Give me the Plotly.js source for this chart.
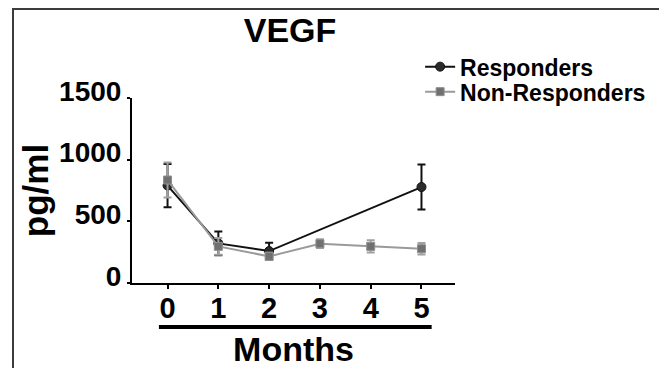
<!DOCTYPE html>
<html>
<head>
<meta charset="utf-8">
<script src="https://cdn.plot.ly/plotly-3.0.1.min.js"></script>
<style>
  html, body { margin: 0; padding: 0; background: #fff; }
  #wrap { position: relative; width: 659px; height: 368px; overflow: hidden; }
  #chart { width: 659px; height: 368px; }
  #frame { position: absolute; left: 12px; top: 8px; width: 645px; height: 420px;
           border-left: 2px solid #3c3c3c; border-top: 2px solid #3c3c3c; border-right: 1px solid #8a8a8a;
           pointer-events: none; }
</style>
</head>
<body>
<div id="wrap"><div id="chart"></div><div id="frame"></div></div>
<script>
// Data
const monthTicks = [0, 1, 2, 3, 4, 5];
const respMonths = [0, 1, 2, 5];
const respValues = [790, 321, 259, 778];
const respErrors = [175, 96, 68, 182];
const nonRespMonths = [0, 1, 2, 3, 4, 5];
const nonRespValues = [835, 297, 216, 319, 297, 278];
const nonRespErrors = [142, 68, 30, 35, 50, 46];
const yTicks = [0, 500, 1000, 1500];

const FONT = 'Liberation Sans, Arial, Helvetica, sans-serif';
const legendFont = { family: FONT, size: 23, weight: 'bold', color: '#000' };

const traces = [
  {
    name: 'Responders', type: 'scatter', mode: 'lines+markers', legend: 'legend',
    x: respMonths, y: respValues,
    line: { color: '#111111', width: 2 },
    marker: { symbol: 'circle', size: 9, color: '#2a2a2a', line: { color: '#111', width: 1 } },
    error_y: { type: 'data', array: respErrors, visible: true, color: '#111111', thickness: 2, width: 4 }
  },
  {
    name: 'Non-Responders', type: 'scatter', mode: 'lines+markers', legend: 'legend2',
    x: nonRespMonths, y: nonRespValues,
    line: { color: '#9a9a9a', width: 2 },
    marker: { symbol: 'square', size: 8, color: '#707070', line: { color: '#909090', width: 1 } },
    error_y: { type: 'data', array: nonRespErrors, visible: true, color: '#a0a0a0', thickness: 2, width: 4 }
  }
];

const layout = {
  width: 659, height: 368,
  margin: { l: 132, r: 204, t: 98, b: 85, pad: 0, autoexpand: false },
  paper_bgcolor: '#ffffff', plot_bgcolor: '#ffffff',
  font: { family: FONT, color: '#000' },
  showlegend: true,
  title: {
    text: 'VEGF', font: { family: FONT, size: 34, weight: 'bold', color: '#000' },
    xref: 'container', x: 290 / 659, xanchor: 'center',
    yref: 'container', y: 1 - 30 / 368, yanchor: 'middle'
  },
  legend: {
    x: 0.892, xanchor: 'left', y: (283 - 66.7) / 185, yanchor: 'middle',
    font: legendFont, bgcolor: 'rgba(0,0,0,0)', borderwidth: 0, itemwidth: 30
  },
  legend2: {
    x: 0.892, xanchor: 'left', y: (283 - 91.7) / 185, yanchor: 'middle',
    font: legendFont, bgcolor: 'rgba(0,0,0,0)', borderwidth: 0, itemwidth: 30
  },
  xaxis: {
    range: [-0.70, 5.66], tickvals: monthTicks, ticktext: monthTicks.map(String),
    showgrid: false, zeroline: false, showline: true, linecolor: '#000', linewidth: 2,
    ticks: 'outside', ticklen: 4, tickwidth: 2, tickcolor: '#000', ticklabelstandoff: -6,
    tickfont: { family: FONT, size: 29, weight: 'bold', color: '#000' },
    title: { text: 'Months', font: { family: FONT, size: 34, weight: 'bold', color: '#000' }, standoff: 29 },
    automargin: false, fixedrange: true
  },
  yaxis: {
    range: [0, 1500], tickvals: yTicks, ticktext: yTicks.map(String),
    showgrid: false, zeroline: false, showline: true, linecolor: '#000', linewidth: 2,
    ticks: 'outside', ticklen: 3, tickwidth: 2, tickcolor: '#000', ticklabelshift: -7,
    tickfont: { family: FONT, size: 28, weight: 'bold', color: '#000' },
    title: { text: 'pg/ml', font: { family: FONT, size: 35, weight: 'bold', color: '#000' }, standoff: 0 },
    automargin: false, fixedrange: true
  },
  shapes: [
    { type: 'line', xref: 'x', yref: 'paper', x0: -0.17, x1: 5.2, y0: -0.238, y1: -0.238,
      line: { color: '#000', width: 4 } }
  ]
};

Plotly.newPlot('chart', traces, layout, { staticPlot: true, displayModeBar: false });
</script>
</body>
</html>
